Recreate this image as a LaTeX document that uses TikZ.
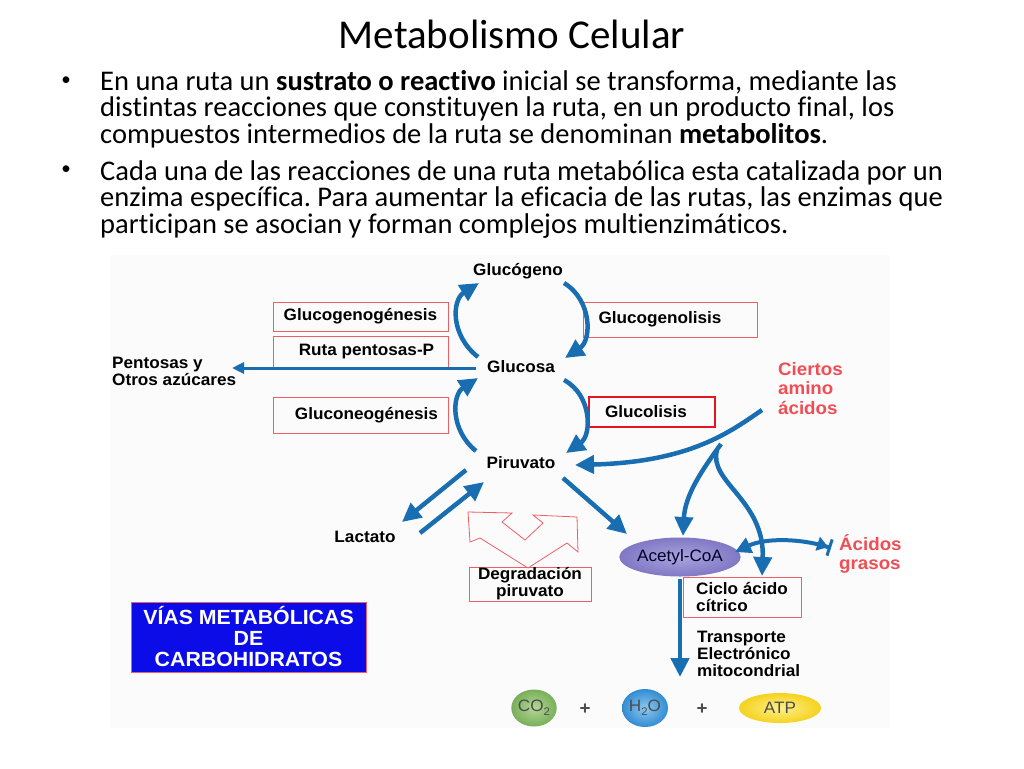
\documentclass[tikz,border=0pt]{standalone}
\usepackage{fontspec}
\setmainfont{Carlito}[Ligatures=NoCommon]
\newfontfamily\dfont{Liberation Sans}[FakeStretch=1.04]
\usetikzlibrary{arrows.meta,shapes.geometric}
\definecolor{arrowblue}{RGB}{25,110,178}
\definecolor{boxred}{RGB}{238,95,100}
\definecolor{strongred}{RGB}{230,20,30}
\definecolor{redtext}{RGB}{240,78,84}
\definecolor{viasblue}{RGB}{12,12,232}
\definecolor{panel}{RGB}{251,251,251}
\definecolor{acetyl}{RGB}{128,120,196}
\definecolor{acetylhi}{RGB}{170,164,222}
\definecolor{cogreen}{RGB}{120,175,90}
\definecolor{cogreenhi}{RGB}{180,215,150}
\definecolor{hblue}{RGB}{50,140,210}
\definecolor{hbluehi}{RGB}{140,200,240}
\definecolor{atpy}{RGB}{245,210,30}
\definecolor{atpyhi}{RGB}{252,240,140}
\tikzset{
  body/.style={font=\fontsize{28.5}{27}\selectfont, inner sep=0, anchor=base west},
  lbl/.style={font=\dfont\bfseries\fontsize{16.5}{17}\selectfont, inner sep=0},
  redbox/.style={draw=boxred, line width=0.9pt, font=\dfont\bfseries\fontsize{16.5}{17}\selectfont, inner sep=0},
  redlbl/.style={font=\dfont\bfseries\fontsize{18}{19.5}\selectfont, text=redtext, inner sep=0, align=left},
  barrow/.style={draw=arrowblue, line width=4.5pt, -{Triangle[length=19pt,width=18pt]}},
  mol/.style={ellipse, inner sep=0, font=\dfont\fontsize{16.5}{17}\selectfont, text=black!70},
}
\frenchspacing
\begin{document}
\begin{tikzpicture}[x=1pt,y=-1pt]
\useasboundingbox (0,0) rectangle (1024,768);
\fill[white] (0,0) rectangle (1024,768);
\fill[panel] (110,255) rectangle (890,728);

% title and bullets
\node[font=\fontsize{41}{41}\selectfont, inner sep=0] (title) at (512,34) {Metabolismo Celular};
\node[font=\fontsize{19}{19}\selectfont, inner sep=0] (b1) at (66,81) {•};
\node[font=\fontsize{19}{19}\selectfont, inner sep=0] (b2) at (66,170) {•};
\node[body] (l1) at (100,90) {En una ruta un \textbf{sustrato o reactivo} inicial se transforma, mediante las};
\node[body] (l2) at (100,116.5) {distintas reacciones que constituyen la ruta, en un producto final, los};
\node[body] (l3) at (100,143) {compuestos intermedios de la ruta se denominan \textbf{metabolitos}.};
\node[body] (l4) at (100,180) {Cada una de las reacciones de una ruta metabólica esta catalizada por un};
\node[body] (l5) at (100,206.5) {enzima específica. Para aumentar la eficacia de las rutas, las enzimas que};
\node[body] (l6) at (100,233) {participan se asocian y forman complejos multienzimáticos.};

% central metabolites
\node[lbl] (glucogeno) at (518,271) {Glucógeno};
\node[lbl] (glucosa) at (521,367) {Glucosa};
\node[lbl] (piruvato) at (521,463) {Piruvato};
\node[lbl, align=left, anchor=west] (pentosas) at (112,371) {Pentosas y\\Otros azúcares};
\node[lbl] (lactato) at (365,537) {Lactato};

% boxes
\node[redbox, minimum width=175, minimum height=29] (glucogenog) at (360.5,316.5) {Glucogenogénesis};
\node[redbox, minimum width=175, minimum height=31] (ruta) at (360.5,351.5) {\hspace*{12pt}Ruta pentosas-P};
\node[redbox, minimum width=175, minimum height=36] (gluconeo) at (360.5,415) {\hspace*{12pt}Gluconeogénesis};
\node[redbox, minimum width=174, minimum height=35] (glucogenol) at (670,319.5) {Glucogenolisis\hspace*{20pt}};
\node[redbox, draw=strongred, line width=2.6pt, minimum width=126, minimum height=30] (glucolisis) at (652,412) {Glucolisis\hspace*{12pt}};
\node[redbox, minimum width=122, minimum height=34, align=center] (degrad) at (530,584) {Degradación\\piruvato};
\node[redbox, minimum width=118, minimum height=40, align=left] (ciclo) at (742,597) {Ciclo ácido\\cítrico};
\node[lbl, align=left, anchor=west] (transp) at (697,654) {Transporte\\Electrónico\\mitocondrial};

\node[redlbl, anchor=north west] (ciertos) at (778,362) {Ciertos\\amino\\ácidos};
\node[redlbl, anchor=north west] (acidos) at (839,534) {Ácidos\\grasos};

\node[draw=boxred, line width=0.8pt, fill=viasblue, text=white, minimum width=235, minimum height=70, inner sep=0, align=center, font=\dfont\bfseries\fontsize{20.5}{21}\selectfont] (vias) at (248.5,637) {VÍAS METABÓLICAS\\DE\\CARBOHIDRATOS};

% molecules
\node[mol, minimum width=107, minimum height=39, inner color=acetylhi, outer color=acetyl, text=black!75!blue!60!black] (acetyl) at (680,557) {Acetyl-CoA};
\node[mol, minimum width=44, minimum height=37, inner color=cogreenhi, outer color=cogreen] (co2) at (534,708) {CO\raisebox{-4pt}{\fontsize{11}{11}\selectfont 2}};
\node[font=\dfont\bfseries\fontsize{18}{18}\selectfont, text=black!70, inner sep=0] (plus1) at (585,709) {+};
\node[mol, minimum width=46, minimum height=38, inner color=hbluehi, outer color=hblue] (h2o) at (645,708) {H\raisebox{-4pt}{\fontsize{11}{11}\selectfont 2}O};
\node[font=\dfont\bfseries\fontsize{18}{18}\selectfont, text=black!70, inner sep=0] (plus2) at (702,709) {+};
\node[mol, minimum width=82, minimum height=30, inner color=atpyhi, outer color=atpy] (atp) at (780,708) {ATP};

% red double outlined arrow
\draw[boxred, line width=0.8pt, line join=miter] (470,542) -- (468,512) -- (512,513) -- (502,522) -- (525,540) -- (543,523) -- (533,515) -- (577,517) -- (578,552) -- (567,543) -- (528,568) -- (480,538) -- cycle;

% named end points
\coordinate (a1s) at (478,357); \coordinate (a1e) at (479,283);
\coordinate (a2s) at (564,283); \coordinate (a2e) at (565,358);
\coordinate (a3s) at (476,451); \coordinate (a3e) at (478,378);
\coordinate (a4s) at (564,380); \coordinate (a4e) at (566,453);
\coordinate (pent) at (232,368); \coordinate (gl) at (476,368);
\coordinate (lac1s) at (466,470); \coordinate (lac1e) at (402,522);
\coordinate (lac2s) at (420,533); \coordinate (lac2e) at (484,482);
\coordinate (pacs) at (563,478); \coordinate (pace) at (627,534);
\coordinate (amino) at (762,410); \coordinate (pyr) at (575,465);
\coordinate (br1) at (721,444); \coordinate (acetop) at (683,536);
\coordinate (br2) at (717,450); \coordinate (ciclotop) at (762,576);
\coordinate (acr) at (735,552); \coordinate (agl) at (831,548);
\coordinate (acb) at (680,579); \coordinate (down) at (680,677);

% blue arrows
\draw[barrow] (a1s) .. controls (450,335) and (452,300) .. (a1e);
\draw[barrow] (a2s) .. controls (592,300) and (592,340) .. (a2e);
\draw[barrow] (a3s) .. controls (450,430) and (452,395) .. (a3e);
\draw[barrow] (a4s) .. controls (592,395) and (592,435) .. (a4e);
\draw[draw=arrowblue, line width=3pt, -{Triangle[length=12pt,width=11pt]}] (gl) -- (pent);
\draw[barrow] (lac1s) -- (lac1e);
\draw[barrow] (lac2s) -- (lac2e);
\draw[barrow] (pacs) -- (pace);
\draw[barrow] (amino) .. controls (730,432) and (690,462) .. (pyr);
\draw[barrow] (br1) .. controls (702,470) and (685,495) .. (acetop);
\draw[barrow] (br2) .. controls (708,482) and (765,500) .. (ciclotop);
\draw[draw=arrowblue, line width=4pt, {Triangle[length=16pt,width=16pt]}-{Triangle[length=11pt,width=14pt]Bar[width=17pt,line width=3pt]}] (acr) .. controls (765,538) and (800,538) .. (agl);
\draw[barrow] (acb) -- (down);
\end{tikzpicture}
\end{document}
